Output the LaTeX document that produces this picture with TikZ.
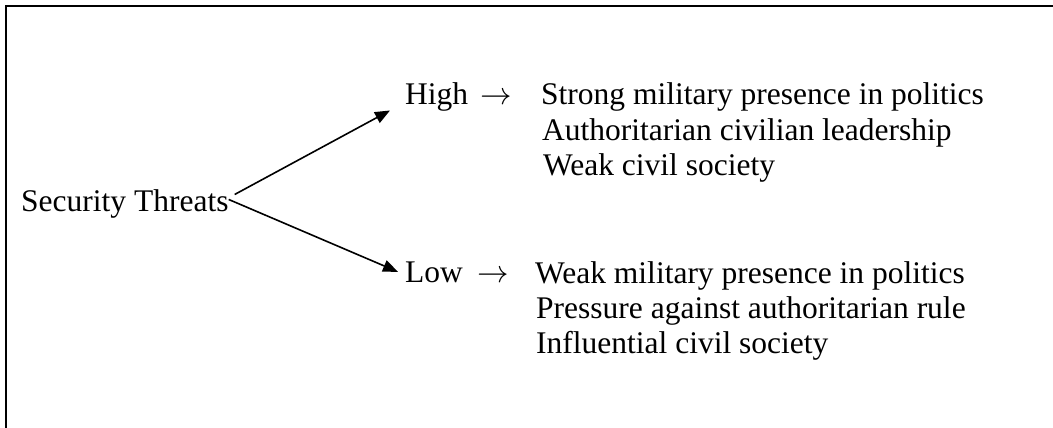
\documentclass[tikz,border=0pt]{standalone}
\usepackage{fix-cm}
\usepackage{fontspec}
\setmainfont{Liberation Serif}
\usetikzlibrary{arrows.meta,calc,positioning}
\tikzset{
  lbl/.style={inner sep=0pt, anchor=base west, font=\fontsize{31.5}{35}\selectfont},
  branch/.style={->, line width=1.6pt},
}
\begin{document}
\begin{tikzpicture}[>={Triangle[length=15pt,width=12pt]}, x=1pt, y=-1pt]
\useasboundingbox (0,0) rectangle (1053,428);
\draw[line width=2.2pt](6,428)--(6,6)--(1053,6);

\node[lbl] (threat) at (21,211) {Security Threats};

\node[lbl] (high) at (405,105) {High};
\node[lbl] (harr) at (480,105) {$\rightarrow$};
\node[lbl] (low) at (405,282) {Low};
\node[lbl] (larr) at (477,282) {$\rightarrow$};

% outcomes of each branch
\foreach \n/\x/\y/\t in {h1/541/105/Strong military presence in politics,
                         h2/542/140/Authoritarian civilian leadership,
                         h3/543/175/Weak civil society,
                         l1/535/283/Weak military presence in politics,
                         l2/536/318/Pressure against authoritarian rule,
                         l3/536/353/Influential civil society}
{
    \node[lbl] (\n) at (\x,\y) {\t};
}

\draw[branch]($(threat.east)+(6,-9)$)--($(high.west)+(-15,13)$);
\draw[branch]($(threat.east)+(0,-4)$)--($(low.west)+(-7,0)$);
\end{tikzpicture}
\end{document}
